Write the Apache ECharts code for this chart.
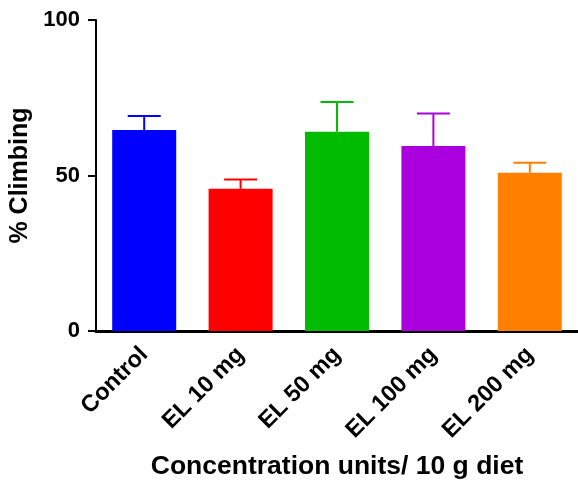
<!DOCTYPE html>
<html>
<head>
<meta charset="utf-8">
<script src="https://cdn.jsdelivr.net/npm/echarts@6/dist/echarts.min.js"></script>
<style>
html,body{margin:0;padding:0;background:#fff;}
#chart{width:578px;height:484px;}
</style>
</head>
<body>
<div id="chart"></div>
<script>
const categories = ['Control', 'EL 10 mg', 'EL 50 mg', 'EL 100 mg', 'EL 200 mg'];
const means = [64.6, 45.7, 64.1, 59.5, 50.9];
const errors = [4.5, 3.0, 9.5, 10.4, 3.2];
const colors = ['#0000FF', '#FF0000', '#00BB00', '#AA00DD', '#FF8000'];
const yTicks = [0, 50, 100];

const FONT = '"Liberation Sans", Arial, sans-serif';
const chart = echarts.init(document.getElementById('chart'));

chart.setOption({
  animation: false,
  backgroundColor: '#fff',
  grid: { left: 96, right: 0, top: 20, bottom: 153, containLabel: false, outerBoundsMode: 'none' },
  xAxis: {
    type: 'category',
    data: categories,
    name: 'Concentration units/ 10 g diet',
    nameLocation: 'middle',
    nameGap: 122,
    nameTextStyle: { fontFamily: FONT, fontWeight: 'bold', fontSize: 26.5, color: '#000' },
    axisLine: { show: true, lineStyle: { color: '#000', width: 3 } },
    axisTick: { show: false },
    axisLabel: { rotate: 45, margin: 20, fontFamily: FONT, fontWeight: 'bold', fontSize: 23.5, color: '#000', interval: 0 },
    splitLine: { show: false }
  },
  yAxis: {
    type: 'value',
    min: yTicks[0],
    max: yTicks[yTicks.length - 1],
    interval: yTicks[1] - yTicks[0],
    name: '% Climbing',
    nameLocation: 'middle',
    nameGap: 62,
    nameTextStyle: { fontFamily: FONT, fontWeight: 'bold', fontSize: 25, color: '#000' },
    axisLine: { show: true, lineStyle: { color: '#000', width: 2 } },
    axisTick: { show: true, length: 8, lineStyle: { color: '#000', width: 2 } },
    axisLabel: { margin: 16, fontFamily: FONT, fontWeight: 'bold', fontSize: 22, color: '#000' },
    splitLine: { show: false }
  },
  series: [
    {
      type: 'custom',
      z: 1,
      data: means.map((m, i) => [i, m, m + errors[i]]),
      renderItem: function (params, api) {
        const i = api.value(0);
        const base = api.coord([i, api.value(1)]);
        const top = api.coord([i, api.value(2)]);
        const half = 16.5;
        const c = colors[i];
        return {
          type: 'group',
          children: [
            { type: 'line', shape: { x1: base[0], y1: base[1], x2: top[0], y2: top[1] }, style: { stroke: c, lineWidth: 2 } },
            { type: 'line', shape: { x1: top[0] - half, y1: top[1], x2: top[0] + half, y2: top[1] }, style: { stroke: c, lineWidth: 2 } }
          ]
        };
      }
    },
    {
      type: 'bar',
      z: 2,
      barWidth: 64,
      data: means.map((m, i) => ({ value: m, itemStyle: { color: colors[i] } }))
    }
  ]
});
</script>
</body>
</html>
